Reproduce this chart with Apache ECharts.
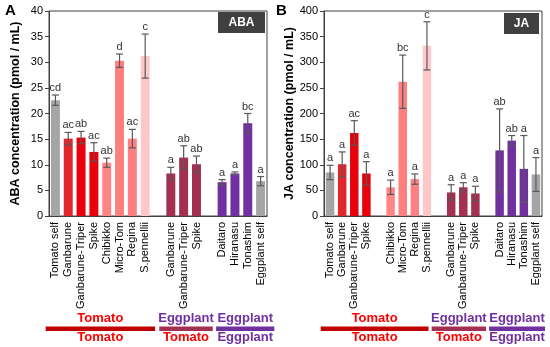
<!DOCTYPE html>
<html><head><meta charset="utf-8">
<script src="https://cdn.jsdelivr.net/npm/echarts@6/dist/echarts.min.js"></script>
<style>html,body{margin:0;padding:0;background:#fff}#c{width:550px;height:347px}</style>
</head><body><div id="c"></div>
<script>
// ---- data ----
const abaCategories = ['Tomato self','Ganbarune','Ganbarune-Triper','Spike','Chibikko','Micro-Tom','Regina','S.pennellii','','Ganbarune','Ganbarune-Triper','Spike','','Daitaro','Hiranasu','Tonashim','Eggplant self'];
const abaMean = [22.6,15.1,15.3,12.5,10.4,30.3,15.1,31.2,null,8.3,11.4,10.1,null,6.6,8.3,18.1,6.8];
const abaErr  = [1.0,1.2,1.2,1.8,0.9,1.3,1.8,4.3,null,1.2,2.3,1.6,null,0.5,0.3,1.9,0.9];
const abaLetters = ['cd','ac','ab','ac','ab','d','ac','c','','a','ab','ab','','a','a','bc','a'];
const abaTicks = [0,5,10,15,20,25,30,35,40];

const jaCategories = ['Tomato self','Ganbarune','Ganbarune-Triper','Spike','','Chibikko','Micro-Tom','Regina','S.pennellii','','Ganbarune','Ganbarune-Triper','Spike','','Daitaro','Hiranasu','Tonashim','Eggplant self'];
const jaMean = [85,101,162,83,null,56,262,72,332,null,46,56,44,null,128,147,92,81];
const jaErr  = [14,24,24,23,null,14,52,10,47,null,15,9,14,null,81,10,65,33];
const jaLetters = ['a','a','ac','a','','a','bc','a','c','','a','a','a','','ab','ab','a','a'];
const jaTicks = [0,50,100,150,200,250,300,350,400];

// group legend (scion / rootstock)
const groupScion = ['Tomato','Eggplant','Eggplant'];
const groupRoot  = ['Tomato','Tomato','Eggplant'];

// ---- styles ----
const GRAY='#a5a5a5', RED1='#e3262b', RED2='#e8000b', SAL='#ff7f7f', PINK='#ffc8c8', MAR='#a33050', PUR='#7030a0';
const abaColors = [GRAY,RED1,RED2,RED2,'#ff8585',SAL,'#ff8080',PINK,null,MAR,MAR,MAR,null,PUR,PUR,PUR,GRAY];
const jaColors  = [GRAY,RED1,RED2,RED2,null,'#ff8585',SAL,'#ff8080',PINK,null,MAR,MAR,MAR,null,PUR,PUR,PUR,GRAY];
const groupBarColors = ['#c00000','#a33050','#7030a0'];
const scionTextColors = ['#ff0000',PUR,PUR];
const rootTextColors  = ['#ff0000','#ff0000',PUR];
// spans of group bars in category-index units
const abaGroupSpans = [[-0.76,7.77],[8.1,12.27],[12.53,17.07]];
const jaGroupSpans  = [[-0.77,8.13],[8.39,12.88],[13.13,17.75]];

const FONT = '"Liberation Sans", Arial, sans-serif';
const chart = echarts.init(document.getElementById('c'), null, {renderer:'canvas'});

function barData(means, colors){
  return means.map((v,i)=> v==null ? '-' : {value:v, itemStyle:{color:colors[i]}});
}
function errData(means, errs){
  const out=[];
  means.forEach((m,i)=>{ if(m!=null) out.push([i,m,errs[i]]); });
  return out;
}
function errSeries(idx, means, errs, letters){
  return {
    type:'custom', xAxisIndex:idx, yAxisIndex:idx, z:5,
    data: errData(means, errs),
    renderItem:(params, api)=>{
      const i=api.value(0), m=api.value(1), e=api.value(2);
      const t=api.coord([i,m+e]), b=api.coord([i,m-e]);
      const cw=3.5, st={stroke:'#595959', lineWidth:1.2};
      return {type:'group', children:[
        {type:'line', shape:{x1:t[0],y1:t[1],x2:b[0],y2:b[1]}, style:st},
        {type:'line', shape:{x1:t[0]-cw,y1:t[1],x2:t[0]+cw,y2:t[1]}, style:st},
        {type:'line', shape:{x1:b[0]-cw,y1:b[1],x2:b[0]+cw,y2:b[1]}, style:st},
        {type:'text', style:{text:letters[i], x:t[0], y:t[1]-1.5, align:'center', verticalAlign:'bottom', fill:'#333', font:'11px '+FONT}}
      ]};
    }
  };
}
function yAx(idx, name, ticks){
  return {
    type:'value', gridIndex:idx, min:ticks[0], max:ticks[ticks.length-1], interval:ticks[1]-ticks[0],
    name:name, nameLocation:'middle', nameGap:27, nameRotate:90,
    nameTextStyle:{fontFamily:FONT, fontWeight:'bold', fontSize:12.5, color:'#000'},
    axisLine:{show:true, lineStyle:{color:'#404040'}},
    axisTick:{show:true, length:4, lineStyle:{color:'#404040'}},
    axisLabel:{fontFamily:FONT, fontSize:11, color:'#000', margin:6},
    splitLine:{show:false}
  };
}
function xAx(idx, cats){
  return {
    type:'category', gridIndex:idx, data:cats,
    axisLine:{show:true, lineStyle:{color:'#404040'}},
    axisTick:{show:false},
    axisLabel:{interval:0, rotate:90, fontFamily:FONT, fontSize:11, color:'#000', margin:6}
  };
}

chart.setOption({
  animation:false,
  grid:[
    {left:49, top:11, width:218, height:205, show:true, borderColor:'#404040', borderWidth:1},
    {left:324, top:11, width:218, height:205, show:true, borderColor:'#404040', borderWidth:1}
  ],
  xAxis:[xAx(0, abaCategories), xAx(1, jaCategories)],
  yAxis:[yAx(0,'ABA concentration (pmol / mL)', abaTicks), yAx(1,'JA concentration (pmol / mL)', jaTicks)],
  series:[
    {type:'bar', xAxisIndex:0, yAxisIndex:0, barWidth:'70%', data:barData(abaMean, abaColors)},
    errSeries(0, abaMean, abaErr, abaLetters),
    {type:'bar', xAxisIndex:1, yAxisIndex:1, barWidth:'70%', data:barData(jaMean, jaColors)},
    errSeries(1, jaMean, jaErr, jaLetters)
  ]
});

function buildGraphics(){
  const g=[];
  g.push({type:'text', left:5, top:3, style:{text:'A', font:'bold 15px '+FONT, fill:'#000'}});
  g.push({type:'text', left:276, top:3, style:{text:'B', font:'bold 15px '+FONT, fill:'#000'}});
  // label boxes
  [[218,12,47,21,'ABA'],[504,13,35,21,'JA']].forEach(b=>{
    g.push({type:'rect', shape:{x:b[0],y:b[1],width:b[2],height:b[3]}, style:{fill:'#404040'}});
    g.push({type:'text', style:{text:b[4], x:b[0]+b[2]/2, y:b[1]+b[3]/2+0.5, align:'center', verticalAlign:'middle', font:'bold 12px '+FONT, fill:'#fff'}});
  });
  [[0,abaGroupSpans],[1,jaGroupSpans]].forEach(([ax,spans])=>{
    const c0=chart.convertToPixel({xAxisIndex:ax},0), c1=chart.convertToPixel({xAxisIndex:ax},1);
    const slot=c1-c0;
    spans.forEach((s,k)=>{
      const x1=c0+s[0]*slot, x2=c0+s[1]*slot, cx=(x1+x2)/2;
      g.push({type:'rect', shape:{x:x1,y:326.5,width:x2-x1,height:4.5}, style:{fill:groupBarColors[k]}});
      g.push({type:'text', style:{text:groupScion[k], x:cx, y:318.5, align:'center', verticalAlign:'middle', font:'bold 13px '+FONT, fill:scionTextColors[k]}});
      g.push({type:'text', style:{text:groupRoot[k], x:cx, y:337.5, align:'center', verticalAlign:'middle', font:'bold 13px '+FONT, fill:rootTextColors[k]}});
    });
  });
  return g;
}
chart.setOption({graphic:buildGraphics()});
</script></body></html>
